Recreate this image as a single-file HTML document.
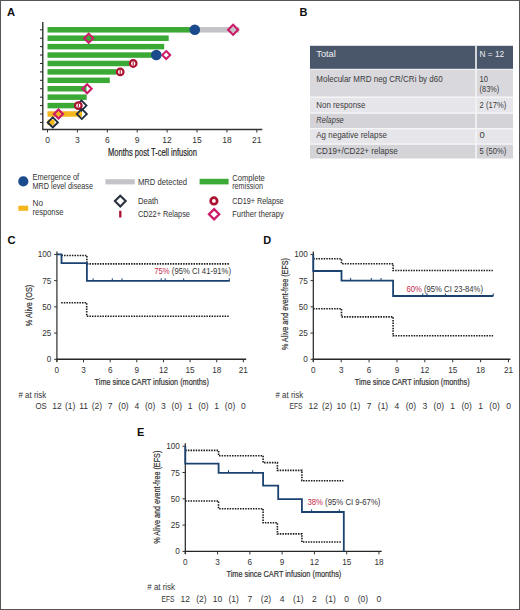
<!DOCTYPE html><html><head><meta charset="utf-8"><style>html,body{margin:0;padding:0;background:#fff;}svg{display:block;}</style></head><body>
<svg width="520" height="610" viewBox="0 0 520 610" font-family='"Liberation Sans", sans-serif'>
<rect x="0" y="0" width="520" height="610" fill="#fff"/>
<text x="7.00" y="16.10" font-size="11.2" fill="#111" font-weight="bold" >A</text>
<line x1="42.8" y1="22" x2="42.8" y2="129.8" stroke="#222" stroke-width="1.3"/>
<line x1="42.2" y1="129.5" x2="262.3" y2="129.5" stroke="#333" stroke-width="1.3"/>
<line x1="40" y1="29.80" x2="42.8" y2="29.80" stroke="#222" stroke-width="1"/>
<line x1="40" y1="38.22" x2="42.8" y2="38.22" stroke="#222" stroke-width="1"/>
<line x1="40" y1="46.64" x2="42.8" y2="46.64" stroke="#222" stroke-width="1"/>
<line x1="40" y1="55.06" x2="42.8" y2="55.06" stroke="#222" stroke-width="1"/>
<line x1="40" y1="63.48" x2="42.8" y2="63.48" stroke="#222" stroke-width="1"/>
<line x1="40" y1="71.90" x2="42.8" y2="71.90" stroke="#222" stroke-width="1"/>
<line x1="40" y1="80.32" x2="42.8" y2="80.32" stroke="#222" stroke-width="1"/>
<line x1="40" y1="88.74" x2="42.8" y2="88.74" stroke="#222" stroke-width="1"/>
<line x1="40" y1="97.16" x2="42.8" y2="97.16" stroke="#222" stroke-width="1"/>
<line x1="40" y1="105.58" x2="42.8" y2="105.58" stroke="#222" stroke-width="1"/>
<line x1="40" y1="114.00" x2="42.8" y2="114.00" stroke="#222" stroke-width="1"/>
<line x1="40" y1="122.42" x2="42.8" y2="122.42" stroke="#222" stroke-width="1"/>
<line x1="47.50" y1="129.5" x2="47.50" y2="132.5" stroke="#333" stroke-width="1"/>
<text x="47.50" y="142.80" font-size="8.5" fill="#333" text-anchor="middle" >0</text>
<line x1="77.40" y1="129.5" x2="77.40" y2="132.5" stroke="#333" stroke-width="1"/>
<text x="77.40" y="142.80" font-size="8.5" fill="#333" text-anchor="middle" >3</text>
<line x1="107.30" y1="129.5" x2="107.30" y2="132.5" stroke="#333" stroke-width="1"/>
<text x="107.30" y="142.80" font-size="8.5" fill="#333" text-anchor="middle" >6</text>
<line x1="137.20" y1="129.5" x2="137.20" y2="132.5" stroke="#333" stroke-width="1"/>
<text x="137.20" y="142.80" font-size="8.5" fill="#333" text-anchor="middle" >9</text>
<line x1="167.10" y1="129.5" x2="167.10" y2="132.5" stroke="#333" stroke-width="1"/>
<text x="167.10" y="142.80" font-size="8.5" fill="#333" text-anchor="middle" >12</text>
<line x1="197.00" y1="129.5" x2="197.00" y2="132.5" stroke="#333" stroke-width="1"/>
<text x="197.00" y="142.80" font-size="8.5" fill="#333" text-anchor="middle" >15</text>
<line x1="226.91" y1="129.5" x2="226.91" y2="132.5" stroke="#333" stroke-width="1"/>
<text x="226.91" y="142.80" font-size="8.5" fill="#333" text-anchor="middle" >18</text>
<line x1="256.81" y1="129.5" x2="256.81" y2="132.5" stroke="#333" stroke-width="1"/>
<text x="256.81" y="142.80" font-size="8.5" fill="#333" text-anchor="middle" >21</text>
<text x="108.00" y="156.20" font-size="10.8" fill="#222" textLength="89.00" lengthAdjust="spacingAndGlyphs" stroke="#222" stroke-width="0.2">Months post T-cell infusion</text>
<rect x="47.5" y="27.05" width="147.40" height="5.5" fill="#3aa935"/>
<rect x="47.5" y="35.47" width="121.20" height="5.5" fill="#3aa935"/>
<rect x="47.5" y="43.89" width="116.70" height="5.5" fill="#3aa935"/>
<rect x="47.5" y="52.31" width="108.80" height="5.5" fill="#3aa935"/>
<rect x="47.5" y="60.73" width="82.00" height="5.5" fill="#3aa935"/>
<rect x="47.5" y="69.15" width="69.00" height="5.5" fill="#3aa935"/>
<rect x="47.5" y="77.57" width="62.30" height="5.5" fill="#3aa935"/>
<rect x="47.5" y="85.99" width="39.00" height="5.5" fill="#3aa935"/>
<rect x="47.5" y="94.41" width="39.20" height="5.5" fill="#3aa935"/>
<rect x="47.5" y="102.83" width="29.00" height="5.5" fill="#3aa935"/>
<rect x="47.5" y="111.25" width="34.50" height="5.5" fill="#f5b71e"/>
<rect x="47.5" y="119.67" width="7.00" height="5.5" fill="#f5b71e"/>
<rect x="194.9" y="27.05" width="44.30" height="5.5" fill="#c3c3c8"/>
<path d="M233.10,24.80 L238.10,29.80 L233.10,34.80 L228.10,29.80 Z" fill="none" stroke="#cc1b68" stroke-width="2.1"/>
<circle cx="194.8" cy="29.80" r="5.3" fill="#1b4b8c"/>
<path d="M88.70,33.72 L93.20,38.22 L88.70,42.72 L84.20,38.22 Z" fill="none" stroke="#cc1b68" stroke-width="2.2"/>
<path d="M166.20,51.06 L170.20,55.06 L166.20,59.06 L162.20,55.06 Z" fill="none" stroke="#cc1b68" stroke-width="2.0"/>
<circle cx="156.3" cy="55.06" r="5.3" fill="#1b4b8c"/>
<circle cx="133.20" cy="63.48" r="3.3" fill="#fff" stroke="#ab1230" stroke-width="2.2"/>
<line x1="133.20" y1="61.48" x2="133.20" y2="65.48" stroke="#ab1230" stroke-width="1.1"/>
<circle cx="120.20" cy="71.90" r="3.3" fill="#fff" stroke="#ab1230" stroke-width="2.2"/>
<line x1="120.20" y1="69.90" x2="120.20" y2="73.90" stroke="#ab1230" stroke-width="1.1"/>
<path d="M87.10,84.24 L91.60,88.74 L87.10,93.24 L82.60,88.74 Z" fill="none" stroke="#cc1b68" stroke-width="2.2"/>
<path d="M81.40,100.48 L86.50,105.58 L81.40,110.68 L76.30,105.58 Z" fill="none" stroke="#202c3c" stroke-width="1.8"/>
<circle cx="78.30" cy="105.58" r="3.3" fill="#fff" stroke="#ab1230" stroke-width="2.2"/>
<line x1="78.30" y1="103.58" x2="78.30" y2="107.58" stroke="#ab1230" stroke-width="1.1"/>
<path d="M58.50,109.50 L63.00,114.00 L58.50,118.50 L54.00,114.00 Z" fill="none" stroke="#cc1b68" stroke-width="2.2"/>
<path d="M81.80,108.90 L86.90,114.00 L81.80,119.10 L76.70,114.00 Z" fill="none" stroke="#202c3c" stroke-width="1.8"/>
<path d="M52.80,117.32 L57.90,122.42 L52.80,127.52 L47.70,122.42 Z" fill="none" stroke="#202c3c" stroke-width="1.9"/>
<circle cx="23.3" cy="181.4" r="5.1" fill="#1b4b8c"/>
<text x="32.50" y="180.30" font-size="8.2" fill="#333" textLength="46.70" lengthAdjust="spacingAndGlyphs" >Emergence of</text>
<text x="32.50" y="189.30" font-size="8.2" fill="#333" textLength="60.50" lengthAdjust="spacingAndGlyphs" >MRD level disease</text>
<rect x="18.3" y="205.7" width="9.9" height="5.1" fill="#f5b71e"/>
<text x="32.50" y="205.70" font-size="8.2" fill="#333" >No</text>
<text x="32.50" y="214.60" font-size="8.2" fill="#333" textLength="31.00" lengthAdjust="spacingAndGlyphs" >response</text>
<rect x="105.4" y="179.2" width="29.4" height="5.2" fill="#c3c3c8"/>
<text x="137.90" y="184.60" font-size="8.2" fill="#333" textLength="49.20" lengthAdjust="spacingAndGlyphs" >MRD detected</text>
<path d="M120.30,195.70 L125.70,201.10 L120.30,206.50 L114.90,201.10 Z" fill="none" stroke="#2a3240" stroke-width="2.1"/>
<text x="137.90" y="204.00" font-size="8.2" fill="#333" textLength="20.50" lengthAdjust="spacingAndGlyphs" >Death</text>
<line x1="120.3" y1="210.8" x2="120.3" y2="217.5" stroke="#ab1230" stroke-width="2.3"/>
<text x="137.90" y="217.00" font-size="8.2" fill="#333" textLength="52.00" lengthAdjust="spacingAndGlyphs" >CD22+ Relapse</text>
<rect x="199.6" y="178.8" width="29" height="5.6" fill="#3aa935"/>
<text x="232.20" y="180.60" font-size="8.2" fill="#333" textLength="32.60" lengthAdjust="spacingAndGlyphs" >Complete</text>
<text x="232.20" y="188.70" font-size="8.2" fill="#333" textLength="30.80" lengthAdjust="spacingAndGlyphs" >remission</text>
<circle cx="213.9" cy="200.9" r="3.25" fill="#fff" stroke="#ab1230" stroke-width="2.7"/>
<text x="232.20" y="204.20" font-size="8.2" fill="#333" textLength="51.40" lengthAdjust="spacingAndGlyphs" >CD19+ Relapse</text>
<path d="M214.10,209.10 L219.20,214.20 L214.10,219.30 L209.00,214.20 Z" fill="none" stroke="#cc1b68" stroke-width="2.3"/>
<text x="232.20" y="216.50" font-size="8.2" fill="#333" textLength="51.60" lengthAdjust="spacingAndGlyphs" >Further therapy</text>
<text x="299.40" y="15.70" font-size="11.0" fill="#111" font-weight="bold" >B</text>
<rect x="310" y="45.8" width="203" height="23" fill="#4a576a"/>
<rect x="310" y="69.6" width="203" height="27.00" fill="#d9d8dd"/>
<rect x="310" y="97.6" width="203" height="15.00" fill="#e6e5ea"/>
<rect x="310" y="113.6" width="203" height="14.60" fill="#d4d3d8"/>
<rect x="310" y="129.2" width="203" height="14.40" fill="#e6e5ea"/>
<rect x="310" y="144.6" width="203" height="13.90" fill="#d4d3d8"/>
<rect x="475.2" y="45.8" width="1.6" height="113" fill="#f4f4f6"/>
<text x="316.30" y="57.30" font-size="9.4" fill="#eef1f4" textLength="19.50" lengthAdjust="spacingAndGlyphs" >Total</text>
<text x="479.60" y="57.30" font-size="9.4" fill="#eef1f4" textLength="24.60" lengthAdjust="spacingAndGlyphs" >N = 12</text>
<text x="316.30" y="81.90" font-size="9.4" fill="#3a3a3a" textLength="126.40" lengthAdjust="spacingAndGlyphs" >Molecular MRD neg CR/CRi by d60</text>
<text x="479.60" y="81.90" font-size="9.4" fill="#3a3a3a" textLength="8.50" lengthAdjust="spacingAndGlyphs" >10</text>
<text x="479.60" y="91.50" font-size="9.4" fill="#3a3a3a" textLength="19.60" lengthAdjust="spacingAndGlyphs" >(83%)</text>
<text x="316.30" y="107.50" font-size="9.4" fill="#3a3a3a" textLength="49.10" lengthAdjust="spacingAndGlyphs" >Non response</text>
<text x="479.60" y="107.50" font-size="9.4" fill="#3a3a3a" textLength="26.60" lengthAdjust="spacingAndGlyphs" >2 (17%)</text>
<text x="316.30" y="122.70" font-size="9.4" fill="#3a3a3a" textLength="27.50" lengthAdjust="spacingAndGlyphs" font-style="italic" >Relapse</text>
<text x="316.30" y="138.20" font-size="9.4" fill="#3a3a3a" textLength="70.60" lengthAdjust="spacingAndGlyphs" >Ag negative relapse</text>
<text x="479.60" y="138.20" font-size="9.4" fill="#3a3a3a" >0</text>
<text x="316.30" y="153.60" font-size="9.4" fill="#3a3a3a" textLength="81.40" lengthAdjust="spacingAndGlyphs" >CD19+/CD22+ relapse</text>
<text x="479.60" y="153.60" font-size="9.4" fill="#3a3a3a" textLength="26.60" lengthAdjust="spacingAndGlyphs" >5 (50%)</text>
<text x="7.60" y="244.00" font-size="11.2" fill="#111" font-weight="bold" >C</text>
<line x1="56.90" y1="251.50" x2="56.90" y2="361.80" stroke="#555" stroke-width="1.5"/>
<line x1="56.20" y1="359.30" x2="246.20" y2="359.30" stroke="#262626" stroke-width="1.4"/>
<line x1="54.10" y1="359.30" x2="56.90" y2="359.30" stroke="#333" stroke-width="1"/>
<text x="51.40" y="362.30" font-size="8.2" fill="#333" text-anchor="end" >0</text>
<line x1="54.10" y1="333.08" x2="56.90" y2="333.08" stroke="#333" stroke-width="1"/>
<text x="51.40" y="336.08" font-size="8.2" fill="#333" text-anchor="end" >25</text>
<line x1="54.10" y1="306.86" x2="56.90" y2="306.86" stroke="#333" stroke-width="1"/>
<text x="51.40" y="309.86" font-size="8.2" fill="#333" text-anchor="end" >50</text>
<line x1="54.10" y1="280.64" x2="56.90" y2="280.64" stroke="#333" stroke-width="1"/>
<text x="51.40" y="283.64" font-size="8.2" fill="#333" text-anchor="end" >75</text>
<line x1="54.10" y1="254.42" x2="56.90" y2="254.42" stroke="#333" stroke-width="1"/>
<text x="51.40" y="257.42" font-size="8.2" fill="#333" text-anchor="end" >100</text>
<line x1="56.90" y1="359.30" x2="56.90" y2="362.30" stroke="#333" stroke-width="1"/>
<text x="56.90" y="372.50" font-size="8.2" fill="#333" text-anchor="middle" >0</text>
<line x1="83.54" y1="359.30" x2="83.54" y2="362.30" stroke="#333" stroke-width="1"/>
<text x="83.54" y="372.50" font-size="8.2" fill="#333" text-anchor="middle" >3</text>
<line x1="110.18" y1="359.30" x2="110.18" y2="362.30" stroke="#333" stroke-width="1"/>
<text x="110.18" y="372.50" font-size="8.2" fill="#333" text-anchor="middle" >6</text>
<line x1="136.82" y1="359.30" x2="136.82" y2="362.30" stroke="#333" stroke-width="1"/>
<text x="136.82" y="372.50" font-size="8.2" fill="#333" text-anchor="middle" >9</text>
<line x1="163.46" y1="359.30" x2="163.46" y2="362.30" stroke="#333" stroke-width="1"/>
<text x="163.46" y="372.50" font-size="8.2" fill="#333" text-anchor="middle" >12</text>
<line x1="190.10" y1="359.30" x2="190.10" y2="362.30" stroke="#333" stroke-width="1"/>
<text x="190.10" y="372.50" font-size="8.2" fill="#333" text-anchor="middle" >15</text>
<line x1="216.74" y1="359.30" x2="216.74" y2="362.30" stroke="#333" stroke-width="1"/>
<text x="216.74" y="372.50" font-size="8.2" fill="#333" text-anchor="middle" >18</text>
<line x1="243.38" y1="359.30" x2="243.38" y2="362.30" stroke="#333" stroke-width="1"/>
<text x="243.38" y="372.50" font-size="8.2" fill="#333" text-anchor="middle" >21</text>
<path d="M61.5,255.5 H86.9 V263.9 H230" fill="none" stroke="#1a1a1a" stroke-width="1.6" stroke-dasharray="1.5,1.1"/>
<path d="M61.2,302.8 H86.7 V316.2 H229.7" fill="none" stroke="#1a1a1a" stroke-width="1.6" stroke-dasharray="1.5,1.1"/>
<path d="M56.9,254.4 H61.5 V263.2 H86.9 V280.9 H229.8" fill="none" stroke="#1b4372" stroke-width="1.8"/>
<line x1="93.10" y1="278.30" x2="93.10" y2="280.90" stroke="#1b4372" stroke-width="1"/>
<line x1="112.30" y1="278.30" x2="112.30" y2="280.90" stroke="#1b4372" stroke-width="1"/>
<line x1="122.00" y1="278.30" x2="122.00" y2="280.90" stroke="#1b4372" stroke-width="1"/>
<line x1="161.20" y1="278.30" x2="161.20" y2="280.90" stroke="#1b4372" stroke-width="1"/>
<line x1="165.20" y1="278.30" x2="165.20" y2="280.90" stroke="#1b4372" stroke-width="1"/>
<line x1="183.70" y1="278.30" x2="183.70" y2="280.90" stroke="#1b4372" stroke-width="1"/>
<line x1="229.30" y1="278.30" x2="229.30" y2="280.90" stroke="#1b4372" stroke-width="1"/>
<text x="154.3" y="273.9" font-size="8.5" fill="#333" textLength="76.7" lengthAdjust="spacingAndGlyphs"><tspan fill="#c52a4a">75%</tspan> (95% CI 41-91%)</text>
<text x="32.20" y="305.50" font-size="9.4" fill="#333" text-anchor="middle" textLength="41.50" lengthAdjust="spacingAndGlyphs" stroke="#333" stroke-width="0.22" transform="rotate(-90 32.2 305.5)">% Alive (OS)</text>
<text x="94.60" y="385.40" font-size="9.8" fill="#333" textLength="114.30" lengthAdjust="spacingAndGlyphs" stroke="#333" stroke-width="0.22">Time since CART infusion (months)</text>
<text x="18.50" y="397.60" font-size="8.6" fill="#333" textLength="27.70" lengthAdjust="spacingAndGlyphs" ># at risk</text>
<text x="35.40" y="409.30" font-size="8.6" fill="#333" textLength="11.20" lengthAdjust="spacingAndGlyphs" >OS</text>
<text x="56.90" y="409.30" font-size="8.5" fill="#333" text-anchor="middle" >12</text>
<text x="70.22" y="409.30" font-size="8.5" fill="#333" text-anchor="middle" >(1)</text>
<text x="83.54" y="409.30" font-size="8.5" fill="#333" text-anchor="middle" >11</text>
<text x="96.86" y="409.30" font-size="8.5" fill="#333" text-anchor="middle" >(2)</text>
<text x="110.18" y="409.30" font-size="8.5" fill="#333" text-anchor="middle" >7</text>
<text x="123.50" y="409.30" font-size="8.5" fill="#333" text-anchor="middle" >(0)</text>
<text x="136.82" y="409.30" font-size="8.5" fill="#333" text-anchor="middle" >4</text>
<text x="150.14" y="409.30" font-size="8.5" fill="#333" text-anchor="middle" >(0)</text>
<text x="163.46" y="409.30" font-size="8.5" fill="#333" text-anchor="middle" >3</text>
<text x="176.78" y="409.30" font-size="8.5" fill="#333" text-anchor="middle" >(0)</text>
<text x="190.10" y="409.30" font-size="8.5" fill="#333" text-anchor="middle" >1</text>
<text x="203.42" y="409.30" font-size="8.5" fill="#333" text-anchor="middle" >(0)</text>
<text x="216.74" y="409.30" font-size="8.5" fill="#333" text-anchor="middle" >1</text>
<text x="230.06" y="409.30" font-size="8.5" fill="#333" text-anchor="middle" >(0)</text>
<text x="243.38" y="409.30" font-size="8.5" fill="#333" text-anchor="middle" >0</text>
<text x="263.30" y="244.00" font-size="11.0" fill="#111" font-weight="bold" >D</text>
<line x1="313.30" y1="251.50" x2="313.30" y2="361.80" stroke="#222" stroke-width="1.2"/>
<line x1="312.60" y1="359.30" x2="510.40" y2="359.30" stroke="#262626" stroke-width="1.4"/>
<line x1="310.50" y1="359.30" x2="313.30" y2="359.30" stroke="#333" stroke-width="1"/>
<text x="307.80" y="362.30" font-size="8.2" fill="#333" text-anchor="end" >0</text>
<line x1="310.50" y1="333.08" x2="313.30" y2="333.08" stroke="#333" stroke-width="1"/>
<text x="307.80" y="336.08" font-size="8.2" fill="#333" text-anchor="end" >25</text>
<line x1="310.50" y1="306.86" x2="313.30" y2="306.86" stroke="#333" stroke-width="1"/>
<text x="307.80" y="309.86" font-size="8.2" fill="#333" text-anchor="end" >50</text>
<line x1="310.50" y1="280.64" x2="313.30" y2="280.64" stroke="#333" stroke-width="1"/>
<text x="307.80" y="283.64" font-size="8.2" fill="#333" text-anchor="end" >75</text>
<line x1="310.50" y1="254.42" x2="313.30" y2="254.42" stroke="#333" stroke-width="1"/>
<text x="307.80" y="257.42" font-size="8.2" fill="#333" text-anchor="end" >100</text>
<line x1="313.30" y1="359.30" x2="313.30" y2="362.30" stroke="#333" stroke-width="1"/>
<text x="313.30" y="372.50" font-size="8.2" fill="#333" text-anchor="middle" >0</text>
<line x1="341.19" y1="359.30" x2="341.19" y2="362.30" stroke="#333" stroke-width="1"/>
<text x="341.19" y="372.50" font-size="8.2" fill="#333" text-anchor="middle" >3</text>
<line x1="369.07" y1="359.30" x2="369.07" y2="362.30" stroke="#333" stroke-width="1"/>
<text x="369.07" y="372.50" font-size="8.2" fill="#333" text-anchor="middle" >6</text>
<line x1="396.96" y1="359.30" x2="396.96" y2="362.30" stroke="#333" stroke-width="1"/>
<text x="396.96" y="372.50" font-size="8.2" fill="#333" text-anchor="middle" >9</text>
<line x1="424.84" y1="359.30" x2="424.84" y2="362.30" stroke="#333" stroke-width="1"/>
<text x="424.84" y="372.50" font-size="8.2" fill="#333" text-anchor="middle" >12</text>
<line x1="452.73" y1="359.30" x2="452.73" y2="362.30" stroke="#333" stroke-width="1"/>
<text x="452.73" y="372.50" font-size="8.2" fill="#333" text-anchor="middle" >15</text>
<line x1="480.61" y1="359.30" x2="480.61" y2="362.30" stroke="#333" stroke-width="1"/>
<text x="480.61" y="372.50" font-size="8.2" fill="#333" text-anchor="middle" >18</text>
<line x1="508.50" y1="359.30" x2="508.50" y2="362.30" stroke="#333" stroke-width="1"/>
<text x="508.50" y="372.50" font-size="8.2" fill="#333" text-anchor="middle" >21</text>
<path d="M313.3,258.8 H341.5 V263.7 H393.1 V270.5 H492.8" fill="none" stroke="#1a1a1a" stroke-width="1.6" stroke-dasharray="1.5,1.1"/>
<path d="M313.3,308.7 H341.5 V316.9 H393.1 V335.7 H493.1" fill="none" stroke="#1a1a1a" stroke-width="1.6" stroke-dasharray="1.5,1.1"/>
<path d="M313.3,254.4 V271 H341.5 V280.7 H393.1 V296.0 H493.3" fill="none" stroke="#1b4372" stroke-width="1.8"/>
<line x1="350.60" y1="278.00" x2="350.60" y2="280.60" stroke="#1b4372" stroke-width="1"/>
<line x1="371.30" y1="278.00" x2="371.30" y2="280.60" stroke="#1b4372" stroke-width="1"/>
<line x1="381.00" y1="278.00" x2="381.00" y2="280.60" stroke="#1b4372" stroke-width="1"/>
<line x1="422.80" y1="293.40" x2="422.80" y2="296.00" stroke="#1b4372" stroke-width="1"/>
<line x1="427.00" y1="293.40" x2="427.00" y2="296.00" stroke="#1b4372" stroke-width="1"/>
<line x1="445.40" y1="293.40" x2="445.40" y2="296.00" stroke="#1b4372" stroke-width="1"/>
<line x1="493.20" y1="293.40" x2="493.20" y2="296.00" stroke="#1b4372" stroke-width="1"/>
<text x="406.5" y="291.6" font-size="8.5" fill="#333" textLength="76.5" lengthAdjust="spacingAndGlyphs"><tspan fill="#c52a4a">60%</tspan> (95% CI 23-84%)</text>
<text x="288.30" y="304.10" font-size="9.4" fill="#333" text-anchor="middle" textLength="92.00" lengthAdjust="spacingAndGlyphs" stroke="#333" stroke-width="0.22" transform="rotate(-90 288.3 304.1)">% Alive and event-free (EFS)</text>
<text x="354.80" y="385.20" font-size="9.8" fill="#333" textLength="114.80" lengthAdjust="spacingAndGlyphs" stroke="#333" stroke-width="0.22">Time since CART infusion (months)</text>
<text x="275.50" y="397.50" font-size="8.6" fill="#333" textLength="27.70" lengthAdjust="spacingAndGlyphs" ># at risk</text>
<text x="289.50" y="409.30" font-size="8.6" fill="#333" textLength="13.00" lengthAdjust="spacingAndGlyphs" >EFS</text>
<text x="313.30" y="409.30" font-size="8.5" fill="#333" text-anchor="middle" >12</text>
<text x="327.24" y="409.30" font-size="8.5" fill="#333" text-anchor="middle" >(2)</text>
<text x="341.19" y="409.30" font-size="8.5" fill="#333" text-anchor="middle" >10</text>
<text x="355.13" y="409.30" font-size="8.5" fill="#333" text-anchor="middle" >(1)</text>
<text x="369.07" y="409.30" font-size="8.5" fill="#333" text-anchor="middle" >7</text>
<text x="383.01" y="409.30" font-size="8.5" fill="#333" text-anchor="middle" >(1)</text>
<text x="396.96" y="409.30" font-size="8.5" fill="#333" text-anchor="middle" >4</text>
<text x="410.90" y="409.30" font-size="8.5" fill="#333" text-anchor="middle" >(0)</text>
<text x="424.84" y="409.30" font-size="8.5" fill="#333" text-anchor="middle" >3</text>
<text x="438.78" y="409.30" font-size="8.5" fill="#333" text-anchor="middle" >(0)</text>
<text x="452.73" y="409.30" font-size="8.5" fill="#333" text-anchor="middle" >1</text>
<text x="466.67" y="409.30" font-size="8.5" fill="#333" text-anchor="middle" >(0)</text>
<text x="480.61" y="409.30" font-size="8.5" fill="#333" text-anchor="middle" >1</text>
<text x="494.55" y="409.30" font-size="8.5" fill="#333" text-anchor="middle" >(0)</text>
<text x="508.50" y="409.30" font-size="8.5" fill="#333" text-anchor="middle" >0</text>
<text x="137.00" y="436.00" font-size="11.0" fill="#111" font-weight="bold" >E</text>
<line x1="185.30" y1="443.20" x2="185.30" y2="553.90" stroke="#222" stroke-width="1.2"/>
<line x1="184.60" y1="551.40" x2="381.70" y2="551.40" stroke="#262626" stroke-width="1.4"/>
<line x1="182.50" y1="551.40" x2="185.30" y2="551.40" stroke="#333" stroke-width="1"/>
<text x="179.80" y="554.40" font-size="8.2" fill="#333" text-anchor="end" >0</text>
<line x1="182.50" y1="525.10" x2="185.30" y2="525.10" stroke="#333" stroke-width="1"/>
<text x="179.80" y="528.10" font-size="8.2" fill="#333" text-anchor="end" >25</text>
<line x1="182.50" y1="498.80" x2="185.30" y2="498.80" stroke="#333" stroke-width="1"/>
<text x="179.80" y="501.80" font-size="8.2" fill="#333" text-anchor="end" >50</text>
<line x1="182.50" y1="472.50" x2="185.30" y2="472.50" stroke="#333" stroke-width="1"/>
<text x="179.80" y="475.50" font-size="8.2" fill="#333" text-anchor="end" >75</text>
<line x1="182.50" y1="446.20" x2="185.30" y2="446.20" stroke="#333" stroke-width="1"/>
<text x="179.80" y="449.20" font-size="8.2" fill="#333" text-anchor="end" >100</text>
<line x1="185.30" y1="551.40" x2="185.30" y2="554.40" stroke="#333" stroke-width="1"/>
<text x="185.30" y="564.60" font-size="8.2" fill="#333" text-anchor="middle" >0</text>
<line x1="217.58" y1="551.40" x2="217.58" y2="554.40" stroke="#333" stroke-width="1"/>
<text x="217.58" y="564.60" font-size="8.2" fill="#333" text-anchor="middle" >3</text>
<line x1="249.86" y1="551.40" x2="249.86" y2="554.40" stroke="#333" stroke-width="1"/>
<text x="249.86" y="564.60" font-size="8.2" fill="#333" text-anchor="middle" >6</text>
<line x1="282.14" y1="551.40" x2="282.14" y2="554.40" stroke="#333" stroke-width="1"/>
<text x="282.14" y="564.60" font-size="8.2" fill="#333" text-anchor="middle" >9</text>
<line x1="314.42" y1="551.40" x2="314.42" y2="554.40" stroke="#333" stroke-width="1"/>
<text x="314.42" y="564.60" font-size="8.2" fill="#333" text-anchor="middle" >12</text>
<line x1="346.70" y1="551.40" x2="346.70" y2="554.40" stroke="#333" stroke-width="1"/>
<text x="346.70" y="564.60" font-size="8.2" fill="#333" text-anchor="middle" >15</text>
<line x1="378.98" y1="551.40" x2="378.98" y2="554.40" stroke="#333" stroke-width="1"/>
<text x="378.98" y="564.60" font-size="8.2" fill="#333" text-anchor="middle" >18</text>
<path d="M185.3,450.4 H218.6 V455.7 H263.1 V462.6 H277.4 V470.4 H301.9 V480.8 H343.4" fill="none" stroke="#1a1a1a" stroke-width="1.6" stroke-dasharray="1.5,1.1"/>
<path d="M185.3,501 H218.5 V508.7 H263.1 V522.8 H277.4 V533.9 H301.9 V542 H341.9" fill="none" stroke="#1a1a1a" stroke-width="1.6" stroke-dasharray="1.5,1.1"/>
<path d="M185.3,446.2 V463.6 H218.6 V472.8 H263.1 V485.7 H278.2 V499.1 H301.9 V512 H343.8 V551.4" fill="none" stroke="#1b4372" stroke-width="1.8"/>
<line x1="228.50" y1="470.20" x2="228.50" y2="472.80" stroke="#1b4372" stroke-width="1"/>
<line x1="252.70" y1="470.20" x2="252.70" y2="472.80" stroke="#1b4372" stroke-width="1"/>
<line x1="311.60" y1="509.40" x2="311.60" y2="512.00" stroke="#1b4372" stroke-width="1"/>
<line x1="339.30" y1="509.40" x2="339.30" y2="512.00" stroke="#1b4372" stroke-width="1"/>
<text x="307.4" y="505.0" font-size="8.5" fill="#333" textLength="73" lengthAdjust="spacingAndGlyphs"><tspan fill="#c52a4a">38%</tspan> (95% CI 9-67%)</text>
<text x="159.60" y="497.20" font-size="9.4" fill="#333" text-anchor="middle" textLength="93.00" lengthAdjust="spacingAndGlyphs" stroke="#333" stroke-width="0.22" transform="rotate(-90 159.6 497.2)">% Alive and event-free (EFS)</text>
<text x="226.50" y="577.10" font-size="9.8" fill="#333" textLength="114.80" lengthAdjust="spacingAndGlyphs" stroke="#333" stroke-width="0.22">Time since CART infusion (months)</text>
<text x="147.30" y="589.60" font-size="8.6" fill="#333" textLength="27.70" lengthAdjust="spacingAndGlyphs" ># at risk</text>
<text x="161.50" y="601.50" font-size="8.6" fill="#333" textLength="13.10" lengthAdjust="spacingAndGlyphs" >EFS</text>
<text x="185.30" y="601.50" font-size="8.5" fill="#333" text-anchor="middle" >12</text>
<text x="201.44" y="601.50" font-size="8.5" fill="#333" text-anchor="middle" >(2)</text>
<text x="217.58" y="601.50" font-size="8.5" fill="#333" text-anchor="middle" >10</text>
<text x="233.72" y="601.50" font-size="8.5" fill="#333" text-anchor="middle" >(1)</text>
<text x="249.86" y="601.50" font-size="8.5" fill="#333" text-anchor="middle" >7</text>
<text x="266.00" y="601.50" font-size="8.5" fill="#333" text-anchor="middle" >(2)</text>
<text x="282.14" y="601.50" font-size="8.5" fill="#333" text-anchor="middle" >4</text>
<text x="298.28" y="601.50" font-size="8.5" fill="#333" text-anchor="middle" >(1)</text>
<text x="314.42" y="601.50" font-size="8.5" fill="#333" text-anchor="middle" >2</text>
<text x="330.56" y="601.50" font-size="8.5" fill="#333" text-anchor="middle" >(1)</text>
<text x="346.70" y="601.50" font-size="8.5" fill="#333" text-anchor="middle" >0</text>
<text x="362.84" y="601.50" font-size="8.5" fill="#333" text-anchor="middle" >(0)</text>
<text x="378.98" y="601.50" font-size="8.5" fill="#333" text-anchor="middle" >0</text>
<rect x="0.5" y="0.5" width="519" height="609" fill="none" stroke="#555" stroke-width="1"/>
</svg></body></html>
